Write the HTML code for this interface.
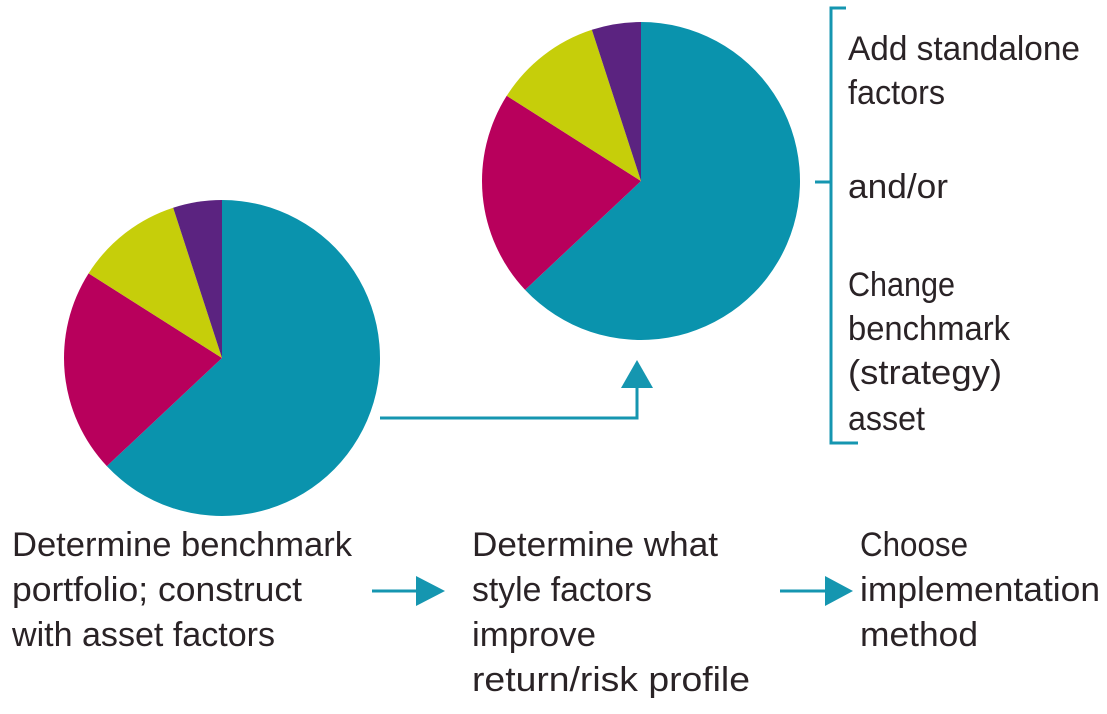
<!DOCTYPE html>
<html><head><meta charset="utf-8"><style>
html,body{margin:0;padding:0;background:#fff;}
svg{display:block;}
text{font-family:"Liberation Sans",sans-serif;font-size:34px;fill:#2a2326;}
</style></head><body>
<svg id="chart" width="1107" height="714" viewBox="0 0 1107 714" xmlns="http://www.w3.org/2000/svg">
<g id="pies"></g>
<g>
<polyline points="380,418 637,418 637,385" fill="none" stroke="#1596b0" stroke-width="3"/>
<polygon points="621,388 653,388 637,360" fill="#1596b0"/>
</g>
<g fill="none" stroke="#1596b0" stroke-width="3">
<polyline points="846,8 831,8 831,443 858,443"/>
<line x1="815" y1="182" x2="831" y2="182"/>
</g>
<g>
<line x1="372" y1="591" x2="420" y2="591" stroke="#1596b0" stroke-width="3"/>
<polygon points="416,576 416,606 445,591" fill="#1596b0"/>
</g>
<g>
<line x1="780" y1="591" x2="828" y2="591" stroke="#1596b0" stroke-width="3"/>
<polygon points="825,576 825,606 853,591" fill="#1596b0"/>
</g>
<g>
<text x="12" y="556" textLength="340" lengthAdjust="spacingAndGlyphs">Determine benchmark</text>
<text x="12" y="601" textLength="290" lengthAdjust="spacingAndGlyphs">portfolio; construct</text>
<text x="12" y="646" textLength="263" lengthAdjust="spacingAndGlyphs">with asset factors</text>
</g>
<g>
<text x="472" y="556" textLength="246" lengthAdjust="spacingAndGlyphs">Determine what</text>
<text x="472" y="601" textLength="180" lengthAdjust="spacingAndGlyphs">style factors</text>
<text x="472" y="646" textLength="124" lengthAdjust="spacingAndGlyphs">improve</text>
<text x="472" y="691" textLength="278" lengthAdjust="spacingAndGlyphs">return/risk profile</text>
</g>
<g>
<text x="860" y="556" textLength="108" lengthAdjust="spacingAndGlyphs">Choose</text>
<text x="860" y="601" textLength="240" lengthAdjust="spacingAndGlyphs">implementation</text>
<text x="860" y="646" textLength="118" lengthAdjust="spacingAndGlyphs">method</text>
</g>
<g>
<text x="848" y="60" textLength="232" lengthAdjust="spacingAndGlyphs">Add standalone</text>
<text x="848" y="104" textLength="97" lengthAdjust="spacingAndGlyphs">factors</text>
<text x="848" y="198" textLength="100" lengthAdjust="spacingAndGlyphs">and/or</text>
<text x="848" y="296" textLength="107" lengthAdjust="spacingAndGlyphs">Change</text>
<text x="848" y="340" textLength="162" lengthAdjust="spacingAndGlyphs">benchmark</text>
<text x="848" y="384" textLength="154" lengthAdjust="spacingAndGlyphs">(strategy)</text>
<text x="848" y="430" textLength="77" lengthAdjust="spacingAndGlyphs">asset</text>
</g>
</svg>
<script>
const categories = ["asset-a", "asset-b", "asset-c", "asset-d"];
const benchmarkValues = [63, 21, 11, 5];
const enhancedValues = [63, 21, 11, 5];
const colors = ["#0a93ad", "#b8005c", "#c6ce0a", "#5b2380"];
const NS = "http://www.w3.org/2000/svg";
const g = document.getElementById("pies");
function drawPie(name, values, cx, cy, r) {
  const total = values.reduce((a, b) => a + b, 0);
  let a0 = 0;
  values.forEach((v, i) => {
    const a1 = a0 + v / total * Math.PI * 2;
    const x0 = cx + r * Math.sin(a0), y0 = cy - r * Math.cos(a0);
    const x1 = cx + r * Math.sin(a1), y1 = cy - r * Math.cos(a1);
    const large = (a1 - a0) > Math.PI ? 1 : 0;
    const p = document.createElementNS(NS, "path");
    p.setAttribute("d", `M${cx},${cy} L${x0},${y0} A${r},${r} 0 ${large} 1 ${x1},${y1} Z`);
    p.setAttribute("fill", colors[i]);
    
    
    g.appendChild(p);
    a0 = a1;
  });
}
drawPie("benchmark-pie", benchmarkValues, 222, 358, 158);
drawPie("enhanced-pie", enhancedValues, 641, 181, 159);
</script>
</body></html>
